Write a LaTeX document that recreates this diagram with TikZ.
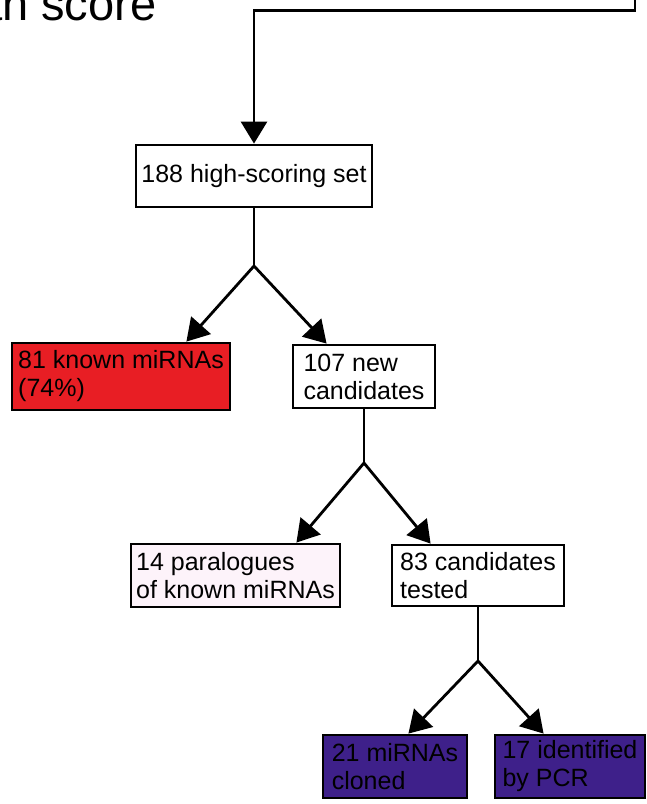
\documentclass[tikz,border=0pt]{standalone}
\usepackage{fontspec}
\setmainfont{Liberation Sans}
\usetikzlibrary{arrows.meta,calc}
\definecolor{boxred}{RGB}{232,30,36}
\definecolor{boxpurple}{RGB}{62,32,138}
\definecolor{boxpink}{RGB}{253,243,250}
\tikzset{
  flowbox/.style={draw=black, line width=2.8pt, align=left, inner sep=0pt,
    font=\fontsize{25}{28}\selectfont, text=black},
  conn/.style={line width=2.8pt, draw=black},
  arr/.style={conn, -{Triangle[length=22pt,width=26pt]}}
}
\begin{document}
\begin{tikzpicture}[x=1pt,y=-1pt]
\useasboundingbox (0,0) rectangle (646,804);
\clip (0,0) rectangle (646,804);
\fill[white] (0,0) rectangle (646,804);

% partially visible heading
\node[anchor=base west, inner sep=0pt, font=\fontsize{47}{52}\selectfont] (head) at (-24,20.5) {an score};

% boxes
\node[flowbox, minimum width=236pt, minimum height=62pt, align=center] (b1) at (254,176) {188 high-scoring set};
\node[flowbox, fill=boxred, minimum width=218pt, minimum height=67pt] (red) at (121,376.5) {81 known miRNAs\\(74\%)};
\node[flowbox, minimum width=142pt, minimum height=63pt] (new) at (364,376.5) {107 new\\candidates};
\node[flowbox, fill=boxpink, minimum width=209pt, minimum height=63pt] (par) at (235.5,575.5) {14 paralogues\\of known miRNAs};
\node[flowbox, minimum width=172pt, minimum height=61pt] (tst) at (478,575.5) {83 candidates\\tested};
\node[flowbox, fill=boxpurple, minimum width=144pt, minimum height=63pt] (clo) at (395,766.5) {21 miRNAs\\cloned};
\node[flowbox, fill=boxpurple, minimum width=150pt, minimum height=63pt] (pcr) at (570,766.5) {17 identified\\by PCR};

% junctions and free ends
\coordinate (src) at (635,-3);
\coordinate (bend) at (254,10.5);
\coordinate (j1) at (254,266);
\coordinate (j2) at (364,463);
\coordinate (j3) at (478,661);

% top connector
\draw[arr] (src) |- (bend) -- (b1.north);

% first split
\draw[conn] (b1.south) -- (j1);
\draw[arr] (j1) -- ([xshift=-45pt]red.north east);
\draw[arr] (j1) -- ([xshift=35pt]new.north west);

% second split
\draw[conn] (new.south) -- (j2);
\draw[arr] (j2) -- ([xshift=-45pt]par.north east);
\draw[arr] (j2) -- ([xshift=40pt]tst.north west);

% third split
\draw[conn] (tst.south) -- (j3);
\draw[arr] (j3) -- ([xshift=-60pt]clo.north east);
\draw[arr] (j3) -- ([xshift=50pt]pcr.north west);
\end{tikzpicture}
\end{document}
